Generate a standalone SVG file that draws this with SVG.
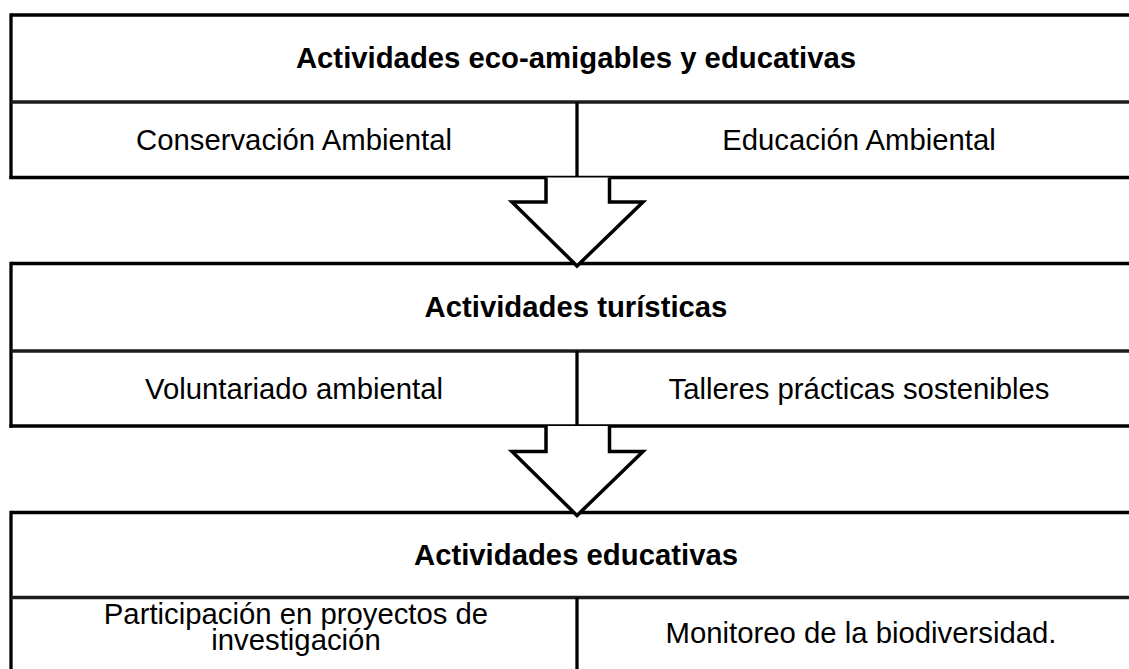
<svg xmlns="http://www.w3.org/2000/svg" width="1129" height="669" viewBox="0 0 1129 669">
<style>
.ln{stroke:#000;stroke-width:3.3;fill:none}
.in{stroke:#1c1c1c;stroke-width:3.6;fill:none}
.t{font-family:"Liberation Sans",Arial,sans-serif;font-size:29.3px;fill:#000;text-anchor:middle}
.b{font-weight:bold}
.arr{stroke:#000;stroke-width:3.5;fill:#fff;stroke-linejoin:miter;stroke-miterlimit:10}
</style>
<rect width="1129" height="669" fill="#fff"/>
<g id="node-eco">
<line class="ln" x1="11" y1="15" x2="1135" y2="15"/>
<line class="ln" x1="11" y1="13.3" x2="11" y2="179"/>
<line class="in" x1="11" y1="102" x2="1135" y2="102"/>
<line class="ln" x1="9.4" y1="177.5" x2="1135" y2="177.5"/>
<line class="ln" x1="577" y1="102" x2="577" y2="177.5"/>
<text class="t b" x="576" y="67.5">Actividades eco-amigables y educativas</text>
<text class="t" x="294" y="150">Conservación Ambiental</text>
<text class="t" x="859" y="150">Educación Ambiental</text>
</g>
<g id="node-turisticas">
<line class="ln" x1="11" y1="263.5" x2="1135" y2="263.5"/>
<line class="ln" x1="11" y1="261.8" x2="11" y2="427.7"/>
<line class="in" x1="11" y1="351" x2="1135" y2="351"/>
<line class="ln" x1="9.4" y1="426" x2="1135" y2="426"/>
<line class="ln" x1="577" y1="351" x2="577" y2="426"/>
<text class="t b" x="576" y="316.5">Actividades turísticas</text>
<text class="t" x="294" y="399">Voluntariado ambiental</text>
<text class="t" x="859" y="399">Talleres prácticas sostenibles</text>
</g>
<g id="node-educativas">
<line class="ln" x1="11" y1="512.5" x2="1135" y2="512.5"/>
<line class="ln" x1="11" y1="510.8" x2="11" y2="675"/>
<line class="in" x1="11" y1="597.5" x2="1135" y2="597.5"/>
<line class="ln" x1="577" y1="597.5" x2="577" y2="675"/>
<text class="t b" x="576" y="565">Actividades educativas</text>
<text class="t" x="296" y="624">Participación en proyectos de</text>
<text class="t" x="296" y="649.5">investigación</text>
<text class="t" x="861" y="643">Monitoreo de la biodiversidad.</text>
</g>
<g id="connectors">
<path class="arr" d="M546,177.5 V202 H512 L577,266 L643,202 H609.5 V177.5"/>
<path class="arr" d="M546,426 V451.5 H512 L577,515.5 L643,451.5 H609.5 V426"/>
</g>
</svg>
